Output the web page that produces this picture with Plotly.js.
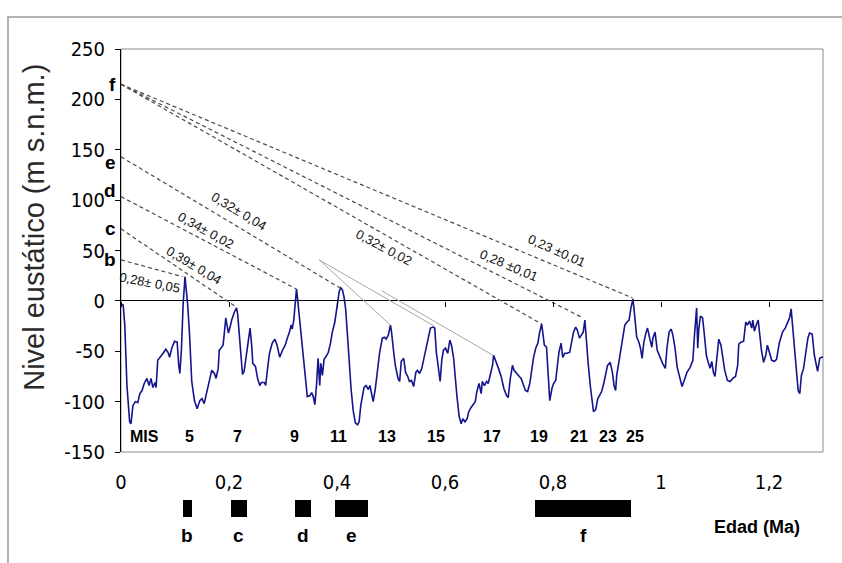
<!DOCTYPE html>
<html>
<head>
<meta charset="utf-8">
<script src="https://cdn.plot.ly/plotly-3.0.1.min.js"></script>
<style>html,body{margin:0;padding:0;background:#fff}#chart{width:842px;height:563px}</style>
</head>
<body>
<div id="chart"></div>
<script>
// ---- Eustatic sea-level curve (age in Ma, level in m) ----
const ages = [0,0.004,0.007,0.011,0.016,0.0185,0.022,0.0265,0.031,0.035,0.039,0.043,0.048,0.052,0.0556,0.059,0.063,0.065,0.068,0.073,0.078,0.083,0.087,0.090,0.094,0.099,0.104,0.107,0.109,0.112,0.115,0.1185,0.1235,0.127,0.131,0.136,0.141,0.146,0.150,0.154,0.158,0.163,0.168,0.173,0.176,0.180,0.182,0.185,0.189,0.191,0.194,0.196,0.199,0.202,0.205,0.210,0.214,0.216,0.219,0.222,0.225,0.228,0.233,0.237,0.239,0.242,0.244,0.249,0.253,0.257,0.260,
0.2654,0.268,0.271,0.275,0.280,0.285,0.289,0.294,0.299,0.304,0.308,0.312,0.315,0.317,0.320,0.322,0.325,0.327,0.331,0.336,0.341,0.345,0.350,0.353,0.356,0.359,0.362,0.365,0.368,0.370,0.373,0.376,0.380,0.384,0.388,0.391,0.396,0.400,0.404,0.407,0.410,0.413,0.416,0.419,0.423,0.426,0.430,0.434,0.438,0.441,0.444,0.447,0.450,0.454,0.458,0.461,0.464,0.467,0.471,0.475,0.479,0.484,0.488,0.491,0.495,0.499,0.501,0.505,0.508,0.513,0.516,0.519,0.5235,
0.527,0.531,0.534,0.538,0.542,0.546,0.549,0.553,0.557,0.560,0.564,0.568,0.573,0.578,0.581,0.584,0.588,0.591,0.594,0.597,0.601,0.605,0.609,0.612,0.616,0.619,0.622,0.626,0.630,0.633,0.637,0.641,0.644,0.648,0.652,0.656,0.659,0.663,0.667,0.669,0.673,0.677,0.680,0.684,0.688,0.690,0.694,0.699,0.704,0.709,0.714,0.717,0.721,0.725,0.728,0.732,0.736,0.741,0.745,0.749,0.753,0.757,0.760,0.764,0.768,0.772,0.775,0.779,0.781,0.784,0.788,
0.790,0.794,0.798,0.801,0.805,0.807,0.811,0.815,0.818,0.822,0.826,0.831,0.834,0.838,0.842,0.845,0.849,0.853,0.856,0.859,0.861,0.865,0.869,0.873,0.875,0.879,0.883,0.886,0.890,0.894,0.897,0.901,0.906,0.910,0.913,0.916,0.918,0.922,0.926,0.930,0.933,0.937,0.941,0.944,0.948,0.950,0.953,0.955,0.959,0.962,0.965,0.968,0.972,0.975,0.979,0.983,0.985,0.989,0.993,0.998,1.003,1.008,1.011,1.015,1.019,1.022,1.026,1.030,1.035,1.039,1.043,
1.048,1.054,1.059,1.062,1.066,1.068,1.070,1.073,1.077,1.080,1.084,1.088,1.091,1.094,1.097,1.100,1.104,1.107,1.111,1.115,1.118,1.123,1.128,1.133,1.138,1.142,1.144,1.148,1.153,1.157,1.160,1.164,1.168,1.170,1.173,1.177,1.180,1.183,1.186,1.190,1.194,1.197,1.201,1.205,1.210,1.214,1.219,1.225,1.230,1.235,1.238,1.241,1.243,1.247,1.251,1.254,1.257,1.260,1.264,1.267,1.272,1.275,1.280,1.284,1.288,1.290,1.294,1.297,1.300];
const levels = [-3,-4,-24,-84,-120,-122,-104,-100,-101,-92,-89,-82,-77,-84,-77,-86,-81,-86,-59,-56,-52,-48,-51,-56,-47,-40,-41,-64,-72,-47,-4,24,-4,-34,-80,-99,-107,-99,-97,-102,-92,-80,-69,-72,-77,-67,-49,-47,-44,-34,-17,-23,-32,-26,-19,-11,-7,-13,-34,-61,-73,-70,-50,-37,-27,-44,-62,-65,-77,-84,-81,
-81,-84,-69,-52,-42,-38,-44,-56,-49,-44,-37,-31,-24,-28,-19,-4,12,2,-21,-51,-80,-95,-94,-91,-95,-103,-84,-57,-84,-62,-74,-58,-55,-51,-42,-32,-21,-4,9,13,11,4,-8,-31,-64,-87,-109,-121,-123,-120,-104,-94,-86,-84,-88,-84,-94,-100,-87,-67,-51,-37,-36,-38,-34,-24,-31,-51,-64,-77,-80,-60,-57,
-71,-75,-80,-79,-85,-71,-69,-72,-67,-59,-49,-39,-27,-26,-27,-51,-71,-80,-59,-49,-47,-52,-39,-44,-57,-77,-94,-114,-122,-117,-120,-117,-110,-106,-103,-100,-90,-82,-92,-80,-84,-80,-82,-74,-64,-54,-59,-67,-75,-87,-94,-96,-77,-64,-69,-72,-74,-77,-84,-89,-90,-82,-71,-56,-47,-42,-32,-23,-31,-44,-46,
-67,-99,-87,-82,-79,-67,-51,-42,-56,-52,-52,-51,-41,-31,-26,-29,-37,-34,-31,-19,-37,-61,-84,-104,-110,-108,-97,-94,-90,-82,-74,-64,-61,-71,-84,-89,-74,-61,-47,-36,-24,-21,-19,-8,2,-8,-24,-36,-41,-47,-57,-42,-32,-27,-37,-46,-37,-31,-49,-56,-62,-67,-47,-31,-28,-34,-47,-66,-77,-85,-79,
-71,-66,-59,-34,-7,-47,-28,-15,-17,-32,-54,-62,-67,-60,-71,-75,-51,-38,-44,-56,-69,-79,-80,-77,-75,-64,-43,-41,-40,-21,-24,-20,-27,-19,-30,-23,-19,-34,-49,-61,-54,-44,-51,-59,-60,-58,-42,-31,-27,-21,-17,-8,-21,-51,-75,-89,-92,-74,-67,-54,-37,-32,-33,-54,-66,-70,-57,-56,-56];

// ---- Correlation lines (terrace height at x=0 -> highstand peak) ----
const dashLetters  = ['b','c','d','e','f','f','f'];
const dashStartV   = [40.7, 71.5, 103.5, 143, 215, 215, 215];
const dashEndT     = [0.114, 0.213, 0.324, 0.405, 0.779, 0.856, 0.947];
const dashEndV     = [24, -6, 12, 13, -23, -17, 3];
const grayStartT   = [0.367, 0.367, 0.483];
const grayStartV   = [40.7, 40.7, 10];
const grayEndT     = [0.499, 0.580, 0.689];
const grayEndV     = [-24, -25, -54];

// ---- Uplift-rate labels ----
const rateLabels = ['0,28± 0,05','0,39± 0,04','0,34± 0,02','0,32± 0,04','0,32± 0,02','0,28 ±0,01','0,23 ±0,01'];

// ---- Marine isotope stages ----
const misLabels = ['MIS','5','7','9','11','13','15','17','19','21','23','25'];
const misAges   = [0.0426,0.1272,0.2154,0.3217,0.4019,0.4931,0.5828,0.6865,0.7741,0.8481,0.9024,0.9519];

// ---- Terrace age ranges (Ma) ----
const terraceNames = ['b','c','d','e','f'];
const terraceStart = [0.115, 0.203, 0.322, 0.397, 0.767];
const terraceEnd   = [0.131, 0.233, 0.352, 0.457, 0.945];

// ---- Axis ticks ----
const yTickVals = [-150,-100,-50,0,50,100,150,200,250];
const yTickText = ['-150','-100','-50','0','50','100','150','200','250'];

const NARROW = '"Liberation Sans Narrow", "Arial Narrow", "DejaVu Sans Condensed", sans-serif';
const SANS = '"Liberation Sans", Arial, sans-serif';

const traces = [];
for (let i = 0; i < dashStartV.length; i++) {
  traces.push({x:[0, dashEndT[i]], y:[dashStartV[i], dashEndV[i]], mode:'lines', type:'scatter',
    line:{color:'#4a4a4a', width:1.2, dash:'4px,3px'}, hoverinfo:'skip'});
}
for (let i = 0; i < grayStartT.length; i++) {
  traces.push({x:[grayStartT[i], grayEndT[i]], y:[grayStartV[i], grayEndV[i]], mode:'lines', type:'scatter',
    line:{color:'#a8a8a8', width:1}, hoverinfo:'skip'});
}
traces.push({x:ages, y:levels, mode:'lines', type:'scatter', line:{color:'#14148c', width:1.6}});
traces.push({type:'bar', orientation:'h', base:terraceStart,
  x:terraceStart.map((s,i)=>terraceEnd[i]-s), y:terraceStart.map(()=>0),
  xaxis:'x', yaxis:'y2', width:1, marker:{color:'#000', line:{width:0}}, hoverinfo:'skip'});
traces.push({x:[0], y:[0], xaxis:'x2', yaxis:'y', mode:'markers', marker:{opacity:0}, hoverinfo:'skip'});

const annotations = [];
annotations.push({text:'Nivel eustático (m s.n.m.)', xref:'paper', yref:'paper', x:-0.125, y:0.64,
  textangle:-90, showarrow:false, xanchor:'center', yanchor:'middle',
  font:{family:SANS, size:29, color:'#2a2a2a'}});
const letterShift = {b:0, c:0, d:6, e:-6, f:0};
const seen = {};
for (let i = 0; i < dashLetters.length; i++) {
  const L = dashLetters[i];
  if (seen[L]) continue;
  seen[L] = true;
  annotations.push({text:L, xref:'x', yref:'y', x:0, y:dashStartV[i], xanchor:'right', yanchor:'middle',
    xshift:-3, yshift:letterShift[L], showarrow:false, font:{family:SANS, size:19, color:'#000', weight:'bold'}});
}
const ratePos = [[0.052,17.9,11],[0.135,34.8,31],[0.157,69.5,29],[0.2185,88.4,31],[0.487,52.6,28],[0.7185,34.8,23],[0.806,49.7,24]];
rateLabels.forEach((t,i)=>{
  annotations.push({text:t, xref:'x', yref:'y', x:ratePos[i][0], y:ratePos[i][1], textangle:ratePos[i][2],
    showarrow:false, xanchor:'center', yanchor:'middle', font:{family:SANS, size:13, color:'#111'}});
});
misLabels.forEach((t,i)=>{
  annotations.push({text:t, xref:'x', yref:'y', x:misAges[i], y:-135, showarrow:false,
    xanchor:'center', yanchor:'middle', font:{family:SANS, size:16, color:'#000', weight:'bold'}});
});
terraceNames.forEach((t,i)=>{
  annotations.push({text:t, xref:'x', yref:'paper', x:(terraceStart[i]+terraceEnd[i])/2, y:0.02, showarrow:false,
    xanchor:'center', yanchor:'middle', font:{family:SANS, size:19, color:'#000', weight:'bold'}});
});
annotations.push({text:'Edad (Ma)', xref:'paper', yref:'paper', x:0.906, y:0.0363, showarrow:false,
  xanchor:'center', yanchor:'middle', font:{family:SANS, size:18, color:'#000', weight:'bold'}});

const layout = {
  width:842, height:563,
  margin:{l:121, r:19, t:49, b:18},
  paper_bgcolor:'#fff', plot_bgcolor:'#fff',
  separators:', ',
  showlegend:false,
  bargap:0,
  xaxis:{domain:[0,1], range:[0,1.3], tick0:0, dtick:0.2, showgrid:false, zeroline:false, showline:false,
    ticks:'', ticklabelstandoff:16, tickfont:{family:NARROW, size:20, color:'#000'}, anchor:'y'},
  xaxis2:{overlaying:'x', anchor:'free', position:0.4922, range:[0,1.3], tick0:0, dtick:0.2,
    ticks:'outside', ticklen:5, tickwidth:1, tickcolor:'#000', showticklabels:false, showgrid:false, zeroline:false, showline:false},
  yaxis:{domain:[0.1875,1], range:[-150,250], tickvals:yTickVals, ticktext:yTickText,
    ticks:'outside', ticklen:5, tickwidth:1, tickcolor:'#000', showline:true, linecolor:'#000', linewidth:1,
    showgrid:false, zeroline:true, zerolinecolor:'#000', zerolinewidth:1, ticklabelstandoff:6,
    tickfont:{family:NARROW, size:20, color:'#000'}},
  yaxis2:{domain:[0.0565,0.0907], range:[-0.5,0.5], visible:false, anchor:'x', fixedrange:true},
  shapes:[
    {type:'rect', xref:'x domain', yref:'y domain', x0:0, x1:1, y0:0, y1:1, line:{color:'#8a8a8a', width:1}, layer:'below'},
    {type:'rect', xref:'paper', yref:'paper', x0:-0.161, x1:1.06, y0:-0.06, y1:1.0645, line:{color:'#9a9a9a', width:1.5}}
  ],
  annotations:annotations
};

Plotly.newPlot('chart', traces, layout, {staticPlot:true, displayModeBar:false});
</script>
</body>
</html>
